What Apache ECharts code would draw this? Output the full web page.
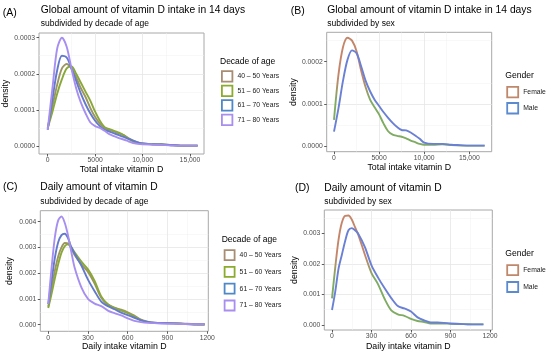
<!DOCTYPE html>
<html><head><meta charset="utf-8">
<script src="https://cdn.jsdelivr.net/npm/echarts@6/dist/echarts.min.js"></script>
<style>html,body{margin:0;padding:0;background:#fff}#c{width:550px;height:354px}</style>
</head><body><div id="c"></div>
<script>
// ---------- DATA ----------
const ageGroups = ['40 – 50 Years', '51 – 60 Years', '61 – 70 Years', '71 – 80 Years'];
const genders = ['Female', 'Male'];

// Panel A: total intake (14 days) by decade of age
const xA = [0,500,1000,1500,2000,2500,3000,3500,4000,4500,5000,5500,6000,6500,7000,7500,8000,8500,9000,9500,10000,11000,12000,13000,14000,15000,15800];
const a4050 = [0.50e-4,1.10e-4,1.70e-4,2.15e-4,2.27e-4,2.15e-4,1.90e-4,1.60e-4,1.35e-4,1.05e-4,0.80e-4,0.62e-4,0.50e-4,0.45e-4,0.40e-4,0.35e-4,0.30e-4,0.22e-4,0.15e-4,0.10e-4,0.07e-4,0.05e-4,0.05e-4,0.03e-4,0.01e-4,0.01e-4,0.01e-4];
const a5160 = [0.50e-4,0.95e-4,1.45e-4,1.85e-4,2.15e-4,2.20e-4,2.00e-4,1.75e-4,1.50e-4,1.25e-4,0.95e-4,0.70e-4,0.52e-4,0.47e-4,0.42e-4,0.37e-4,0.30e-4,0.20e-4,0.12e-4,0.08e-4,0.06e-4,0.05e-4,0.04e-4,0.02e-4,0.01e-4,0.01e-4,0.01e-4];
const a6170 = [0.45e-4,1.30e-4,2.10e-4,2.50e-4,2.45e-4,2.15e-4,1.80e-4,1.45e-4,1.15e-4,0.90e-4,0.70e-4,0.55e-4,0.45e-4,0.40e-4,0.35e-4,0.30e-4,0.25e-4,0.20e-4,0.15e-4,0.10e-4,0.07e-4,0.05e-4,0.04e-4,0.03e-4,0.01e-4,0.01e-4,0.01e-4];
const a7180 = [0.45e-4,1.60e-4,2.70e-4,3.00e-4,2.75e-4,2.15e-4,1.60e-4,1.20e-4,0.90e-4,0.65e-4,0.55e-4,0.50e-4,0.42e-4,0.33e-4,0.27e-4,0.22e-4,0.18e-4,0.13e-4,0.08e-4,0.06e-4,0.05e-4,0.04e-4,0.03e-4,0.015e-4,0.01e-4,0.01e-4,0.01e-4];

// Panel B: total intake (14 days) by sex
const xB = [0,500,1000,1500,2000,2500,3000,3500,4000,4500,5000,5500,6000,6500,7000,7500,8000,8500,9000,9500,10000,11000,12000,13000,14000,15000,16000,16700];
const bFemale = [0.62e-4,1.70e-4,2.35e-4,2.57e-4,2.50e-4,2.25e-4,1.80e-4,1.40e-4,1.10e-4,0.92e-4,0.75e-4,0.53e-4,0.35e-4,0.27e-4,0.24e-4,0.22e-4,0.18e-4,0.13e-4,0.09e-4,0.05e-4,0.03e-4,0.03e-4,0.04e-4,0.02e-4,0.01e-4,0.01e-4,0.01e-4,0.01e-4];
const bMale = [0.34e-4,0.90e-4,1.55e-4,2.05e-4,2.27e-4,2.20e-4,1.90e-4,1.55e-4,1.30e-4,1.10e-4,0.95e-4,0.80e-4,0.67e-4,0.55e-4,0.45e-4,0.38e-4,0.37e-4,0.32e-4,0.25e-4,0.17e-4,0.08e-4,0.05e-4,0.05e-4,0.03e-4,0.02e-4,0.01e-4,0.01e-4,0.01e-4];

// Panel C: daily intake by decade of age
const xC = [0,25,50,75,100,125,150,175,200,250,300,350,400,450,500,550,600,650,700,750,800,900,1000,1100,1180];
const c4050 = [0.70e-3,1.40e-3,2.10e-3,2.65e-3,3.00e-3,3.17e-3,3.15e-3,2.95e-3,2.70e-3,2.35e-3,2.05e-3,1.60e-3,1.05e-3,0.78e-3,0.66e-3,0.58e-3,0.48e-3,0.35e-3,0.20e-3,0.12e-3,0.08e-3,0.07e-3,0.05e-3,0.02e-3,0.01e-3];
const c5160 = [0.65e-3,1.20e-3,1.80e-3,2.35e-3,2.80e-3,3.05e-3,3.12e-3,3.00e-3,2.80e-3,2.45e-3,2.15e-3,1.70e-3,1.10e-3,0.80e-3,0.65e-3,0.55e-3,0.45e-3,0.32e-3,0.18e-3,0.10e-3,0.07e-3,0.06e-3,0.04e-3,0.01e-3,0.01e-3];
const c6170 = [0.80e-3,1.70e-3,2.60e-3,3.20e-3,3.48e-3,3.53e-3,3.35e-3,3.00e-3,2.75e-3,2.30e-3,1.75e-3,1.30e-3,0.90e-3,0.72e-3,0.60e-3,0.47e-3,0.37e-3,0.27e-3,0.17e-3,0.11e-3,0.08e-3,0.06e-3,0.04e-3,0.02e-3,0.02e-3];
const c7180 = [0.80e-3,2.20e-3,3.40e-3,4.05e-3,4.20e-3,3.95e-3,3.45e-3,2.80e-3,2.20e-3,1.45e-3,1.00e-3,0.82e-3,0.72e-3,0.55e-3,0.45e-3,0.36e-3,0.25e-3,0.15e-3,0.10e-3,0.07e-3,0.06e-3,0.04e-3,0.03e-3,0.02e-3,0.02e-3];

// Panel D: daily intake by sex
const xD = [0,25,50,75,100,125,150,175,200,250,300,350,400,450,500,550,600,650,700,750,800,850,900,1000,1100,1150];
const dFemale = [0.87e-3,1.90e-3,2.80e-3,3.35e-3,3.57e-3,3.58e-3,3.45e-3,3.20e-3,2.95e-3,2.30e-3,1.70e-3,1.33e-3,0.85e-3,0.48e-3,0.35e-3,0.30e-3,0.20e-3,0.13e-3,0.10e-3,0.05e-3,0.05e-3,0.05e-3,0.04e-3,0.03e-3,0.02e-3,0.02e-3];
const dMale = [0.49e-3,1.10e-3,1.85e-3,2.30e-3,2.75e-3,3.10e-3,3.17e-3,3.10e-3,2.98e-3,2.55e-3,1.95e-3,1.55e-3,1.20e-3,0.88e-3,0.62e-3,0.54e-3,0.44e-3,0.25e-3,0.15e-3,0.08e-3,0.08e-3,0.07e-3,0.05e-3,0.03e-3,0.02e-3,0.02e-3];

// Tick values and labels
const xTicksAB = [0, 5000, 10000, 15000];
const xTickLabelsAB = ['0', '5000', '10,000', '15,000'];
const xTicksCD = [0, 300, 600, 900, 1200];
const xTickLabelsCD = ['0', '300', '600', '900', '1200'];
const yTicksA = [0, 0.0001, 0.0002, 0.0003];
const yTickLabelsA = ['0.0000', '0.0001', '0.0002', '0.0003'];
const yTicksB = [0, 0.0001, 0.0002];
const yTickLabelsB = ['0.0000', '0.0001', '0.0002'];
const yTicksC = [0, 0.001, 0.002, 0.003, 0.004];
const yTickLabelsC = ['0.000', '0.001', '0.002', '0.003', '0.004'];
const yTicksD = [0, 0.001, 0.002, 0.003];
const yTickLabelsD = ['0.000', '0.001', '0.002', '0.003'];

// ---------- STYLE ----------
const FONT = '"Liberation Sans", Arial, sans-serif';
const ageLegendColors = ['#a88d72', '#8cab2c', '#4f88c8', '#a88ef0'];
const ageLineColors = ['#9c9562', '#8aa83a', '#6379cc', '#a68ff0'];
const genderLegendColors = ['#c0886b', '#5a8bd0'];
const maleLine = '#6a80d4';
const femaleLine = () => new echarts.graphic.LinearGradient(0, 0, 0, 1, [
  {offset: 0, color: '#c4866a'}, {offset: 0.38, color: '#c4866a'},
  {offset: 0.58, color: '#7fab63'}, {offset: 1, color: '#7fab63'}]);

const zip = (xs, ys) => xs.map((x, i) => [x, ys[i]]);
const lookup = (ticks, labels) => v => {
  let best = 0, d = Infinity;
  ticks.forEach((t, i) => { const dd = Math.abs(t - v); if (dd < d) { d = dd; best = i; } });
  return labels[best];
};

function xAxis(gi, min, max, split, ticks, labels, name, gap) {
  return {
    type: 'value', gridIndex: gi, min, max, splitNumber: split,
    axisLine: {show: false, onZero: false},
    axisTick: {show: true, length: 2.5, lineStyle: {color: '#333333', width: 0.8}, customValues: ticks},
    axisLabel: {customValues: ticks, formatter: lookup(ticks, labels), fontFamily: FONT, fontSize: 6.8, color: '#4d4d4d', margin: 3},
    splitLine: {show: true, showMinLine: false, showMaxLine: false, lineStyle: {color: '#e6e6e6', width: 0.8}},
    minorTick: {show: false, splitNumber: 2},
    minorSplitLine: {show: true, lineStyle: {color: '#f1f1f1', width: 0.5}},
    name, nameLocation: 'middle', nameGap: gap,
    nameTextStyle: {fontFamily: FONT, fontSize: 8.8, color: '#000'}
  };
}
function yAxis(gi, min, max, split, ticks, labels, gap) {
  return {
    type: 'value', gridIndex: gi, min, max, splitNumber: split,
    axisLine: {show: false, onZero: false},
    axisTick: {show: true, length: 2.5, lineStyle: {color: '#333333', width: 0.8}, customValues: ticks},
    axisLabel: {customValues: ticks, formatter: lookup(ticks, labels), fontFamily: FONT, fontSize: 6.8, color: '#4d4d4d', margin: 4},
    splitLine: {show: true, showMinLine: false, showMaxLine: false, lineStyle: {color: '#e6e6e6', width: 0.8}},
    minorTick: {show: false, splitNumber: 2},
    minorSplitLine: {show: true, lineStyle: {color: '#f1f1f1', width: 0.5}},
    name: 'density', nameLocation: 'middle', nameGap: gap,
    nameTextStyle: {fontFamily: FONT, fontSize: 8.8, color: '#000'}
  };
}
function line(name, gi, xs, ys, color) {
  return {
    type: 'line', name, xAxisIndex: gi, yAxisIndex: gi, data: zip(xs, ys),
    showSymbol: false, smooth: 0.3, lineStyle: {width: 1.9, color}, itemStyle: {color: typeof color === 'string' ? color : '#c4866a'},
    animation: false, silent: true
  };
}
function txt(x, y, text, size) {
  return {type: 'text', x, y, silent: true,
    style: {text, fill: '#000', font: size + 'px ' + FONT, verticalAlign: 'middle', align: 'left'}};
}
function legend(names, colors, left, top, w, h, gap) {
  return {
    orient: 'vertical', left, top, itemWidth: w, itemHeight: h, itemGap: gap, padding: 0,
    selectedMode: false, icon: 'rect',
    textStyle: {fontFamily: FONT, fontSize: 6.8, color: '#1a1a1a'},
    data: names.map((n, i) => ({name: n, icon: 'rect', itemStyle: {color: '#ffffff', borderColor: colors[i], borderWidth: 1.8}}))
  };
}

const chart = echarts.init(document.getElementById('c'), null, {renderer: 'canvas'});
chart.setOption({
  backgroundColor: '#ffffff',
  animation: false,
  grid: [
    {left: 39, top: 33, width: 165, height: 121, show: true, borderColor: '#a8a8a8', borderWidth: 1},
    {left: 326.7, top: 32.3, width: 165, height: 119.4, show: true, borderColor: '#a8a8a8', borderWidth: 1},
    {left: 40.3, top: 210.7, width: 168, height: 120.6, show: true, borderColor: '#a8a8a8', borderWidth: 1},
    {left: 324.3, top: 210, width: 168, height: 120, show: true, borderColor: '#a8a8a8', borderWidth: 1}
  ],
  xAxis: [
    xAxis(0, -917, 16476, 3, xTicksAB, xTickLabelsAB, 'Total intake vitamin D', 10),
    xAxis(1, -809, 17484, 3, xTicksAB, xTickLabelsAB, 'Total intake vitamin D', 11),
    xAxis(2, -60, 1208, 5, xTicksCD, xTickLabelsCD, 'Daily intake vitamin D', 11),
    xAxis(3, -58.5, 1217.5, 5, xTicksCD, xTickLabelsCD, 'Daily intake vitamin D', 12)
  ],
  yAxis: [
    yAxis(0, -0.0000222, 0.000313, 3, yTicksA, yTickLabelsA, 24.5),
    yAxis(1, -0.0000135, 0.0002698, 3, yTicksB, yTickLabelsB, 27),
    yAxis(2, -0.000256, 0.004427, 5, yTicksC, yTickLabelsC, 26),
    yAxis(3, -0.0001636, 0.003762, 4, yTicksD, yTickLabelsD, 21.5)
  ],
  legend: [
    legend(ageGroups, ageLegendColors, 221, 70.3, 10.5, 10.5, 2.2),
    legend(genders, genderLegendColors, 506.3, 86, 11, 10.5, 3.8),
    legend(ageGroups, ageLegendColors, 223.7, 249.2, 10, 10, 5),
    legend(genders, genderLegendColors, 506.3, 264.3, 11, 10, 5)
  ],
  graphic: [
    txt(2.7, 13, '(A)', 10.5),
    txt(40.7, 10, 'Global amount of vitamin D intake in 14 days', 10.3),
    txt(40.7, 24, 'subdivided by decade of age', 8.5),
    txt(220, 61.7, 'Decade of age', 8.5),
    txt(290.7, 11, '(B)', 10.5),
    txt(327.3, 10, 'Global amount of vitamin D intake in 14 days', 10.3),
    txt(327.3, 24, 'subdivided by sex', 8.5),
    txt(505.3, 75.3, 'Gender', 8.6),
    txt(3, 187, '(C)', 10.5),
    txt(40.3, 187, 'Daily amount of vitamin D', 10.3),
    txt(40.3, 201.7, 'subdivided by decade of age', 8.5),
    txt(221.7, 239.3, 'Decade of age', 8.5),
    txt(295, 188, '(D)', 10.5),
    txt(324.3, 188, 'Daily amount of vitamin D', 10.3),
    txt(324.3, 201.7, 'subdivided by sex', 8.5),
    txt(505.3, 253.3, 'Gender', 8.6)
  ],
  series: [
    line(ageGroups[0], 0, xA, a4050, ageLineColors[0]),
    line(ageGroups[1], 0, xA, a5160, ageLineColors[1]),
    line(ageGroups[2], 0, xA, a6170, ageLineColors[2]),
    line(ageGroups[3], 0, xA, a7180, ageLineColors[3]),
    line(genders[0], 1, xB, bFemale, femaleLine()),
    line(genders[1], 1, xB, bMale, maleLine),
    line(ageGroups[0], 2, xC, c4050, ageLineColors[0]),
    line(ageGroups[1], 2, xC, c5160, ageLineColors[1]),
    line(ageGroups[2], 2, xC, c6170, ageLineColors[2]),
    line(ageGroups[3], 2, xC, c7180, ageLineColors[3]),
    line(genders[0], 3, xD, dFemale, femaleLine()),
    line(genders[1], 3, xD, dMale, maleLine)
  ]
});
</script></body></html>
